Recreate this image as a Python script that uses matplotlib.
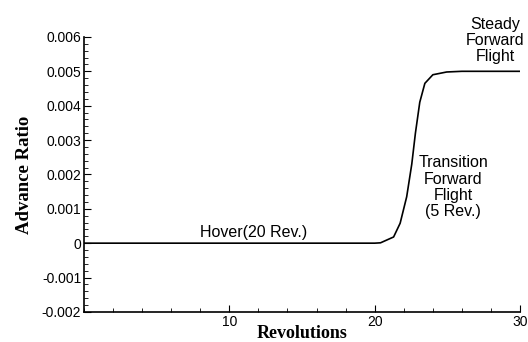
import numpy as np
import matplotlib.pyplot as plt
from matplotlib.ticker import MultipleLocator

# revolutions vs advance ratio
rev = [0.0, 5.0, 10.0, 15.0, 20.0, 20.4, 21.3, 21.75, 22.2, 22.55, 22.8,
       23.1, 23.45, 24.0, 24.95, 26.0, 28.0, 30.0]
mu = [0.0, 0.0, 0.0, 0.0, 0.0, 0.00001, 0.00018, 0.00058, 0.00135, 0.0023,
      0.0032, 0.0041, 0.00465, 0.0049, 0.00498, 0.005, 0.005, 0.005]

fig = plt.figure(figsize=(5.28, 3.42), dpi=100)
ax = fig.add_axes([0.159, 0.088, 0.826, 0.804])
ax.plot(rev, mu, color="black", lw=1.2)

ax.set_xlim(0, 30)
ax.set_ylim(-0.002, 0.006)
ax.xaxis.set_minor_locator(MultipleLocator(2))
ax.yaxis.set_minor_locator(MultipleLocator(0.0002))
ax.set_xticks([10, 20, 30])
ax.set_yticks(np.arange(-0.002, 0.0061, 0.001))
ax.set_yticklabels(["-0.002", "-0.001", "0", "0.001", "0.002", "0.003",
                    "0.004", "0.005", "0.006"])

for s in ["top", "right"]:
    ax.spines[s].set_visible(False)
for s in ["left", "bottom"]:
    ax.spines[s].set_linewidth(1.2)
ax.tick_params(which="both", direction="in", labelsize=10, pad=2)
ax.tick_params(which="major", length=5)
ax.tick_params(which="minor", length=3)
for lab in ax.get_xticklabels() + ax.get_yticklabels():
    lab.set_family("Liberation Sans")

ax.set_xlabel("Revolutions", family="Liberation Serif", weight="bold",
              fontsize=13, labelpad=-3)
ax.set_ylabel("Advance Ratio", family="Liberation Serif", weight="bold",
              fontsize=13.5, labelpad=6)

kw = dict(family="Liberation Sans", fontsize=11.5, ha="center", va="center",
          clip_on=False, linespacing=1.1)
ax.text(11.7, 0.00032, "Hover(20 Rev.)", **kw)
ax.text(25.4, 0.00163, "Transition\nForward\nFlight\n(5 Rev.)", **kw)
ax.text(28.3, 0.0059, "Steady\nForward\nFlight", **kw)

fig.savefig("out.png", dpi=100)
